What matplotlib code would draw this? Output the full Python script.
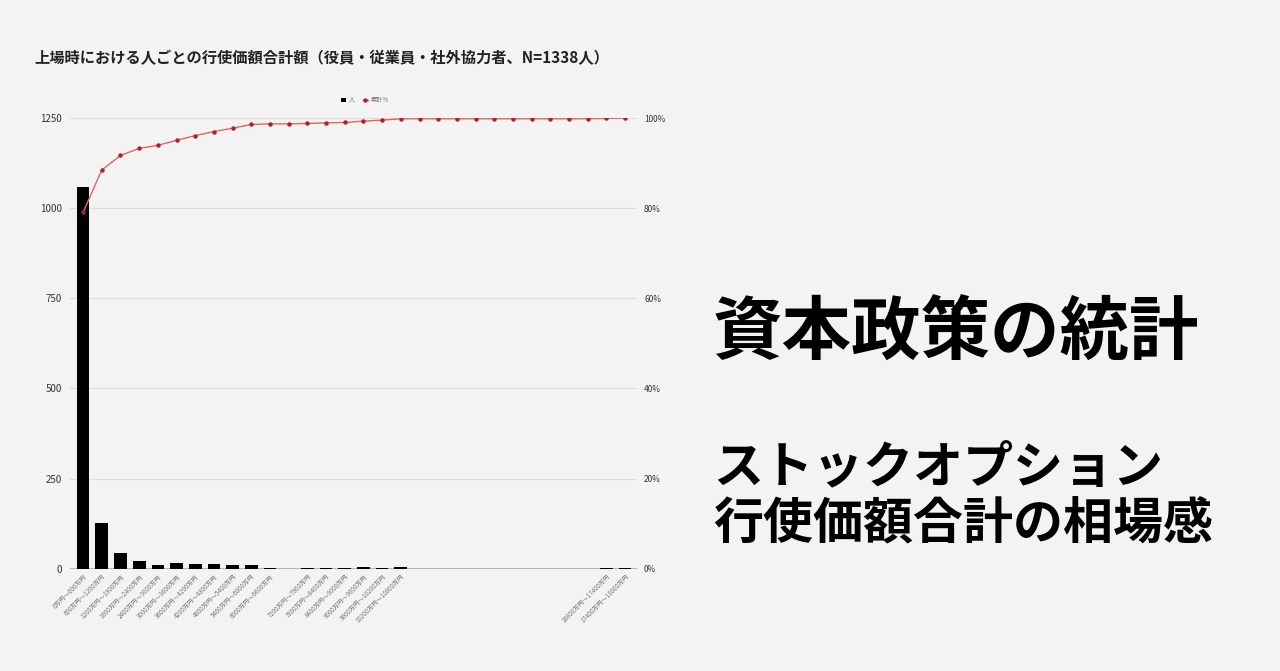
import matplotlib
matplotlib.use("Agg")
import matplotlib.pyplot as plt
import numpy as np

plt.rcParams['font.family'] = ['Noto Sans CJK JP', 'DejaVu Sans']

# bins of 600万円, 0 ~ 18000万円
bin_starts = list(range(0, 18000, 600))
people = [1058, 126, 43, 21, 9, 15, 14, 12, 10, 11,
          2, 0, 1, 2, 1, 4, 3, 4, 0, 0,
          0, 0, 0, 0, 0, 0, 0, 0, 1, 1]
# labels only shown for bins that have people
labels = [f"{s}万円〜{s + 600}万円" if n > 0 else "" for s, n in zip(bin_starts, people)]

total = sum(people)
cum_pct = np.cumsum(people) / total * 100

bg = '#f3f3f3'
fig = plt.figure(figsize=(12.8, 6.71), dpi=100, facecolor=bg)
ax = fig.add_axes([0.0547, 0.1525, 0.443, 0.6715], facecolor=bg)
ax2 = ax.twinx()

x = np.arange(len(people))
ax.bar(x, people, width=0.68, color='black', label='人', zorder=3)
ax2.plot(x, cum_pct, color='#e06666', lw=1.0, marker='o', ms=2.2,
         mfc='#b22222', mec='#b22222', label='累計%', zorder=4)

ax.set_xlim(-0.7, 29.64)
ax.set_ylim(0, 1250)
ax2.set_ylim(0, 100)
ax.set_yticks([0, 250, 500, 750, 1000, 1250])
ax2.set_yticks([0, 20, 40, 60, 80, 100])
ax2.set_yticklabels([f"{v}%" for v in [0, 20, 40, 60, 80, 100]])

ax.set_xticks(x)
ax.set_xticklabels(labels, rotation=45, ha='right', rotation_mode='anchor',
                   fontsize=4.5, color='#777777')
ax.tick_params(axis='x', length=0, pad=3)
ax.tick_params(axis='y', length=0, labelsize=7, labelcolor='#333333', pad=6)
ax2.tick_params(axis='y', length=0, labelsize=6, labelcolor='#333333', pad=5)

ax.grid(axis='y', color='#dddddd', lw=0.8, zorder=0)
for a in (ax, ax2):
    for side in ('top', 'right', 'left', 'bottom'):
        a.spines[side].set_visible(False)
ax.axhline(0, color='#aaaaaa', lw=1.2, zorder=2)
ax2.set_zorder(ax.get_zorder() + 1)
ax2.patch.set_visible(False)

h1, l1 = ax.get_legend_handles_labels()
h2, l2 = ax2.get_legend_handles_labels()
leg = fig.legend(h1 + h2, l1 + l2, loc='center', bbox_to_anchor=(0.285, 0.851),
                 ncol=2, frameon=False, fontsize=4.5, handlelength=0.8,
                 handletextpad=0.5, columnspacing=1.2)
for t in leg.get_texts():
    t.set_color('#777777')

fig.text(0.027, 0.913, '上場時における人ごとの行使価額合計額（役員・従業員・社外協力者、N=1338人）',
         fontsize=11, fontweight='bold', color='#222222', va='center')

fig.text(0.557, 0.502, '資本政策の統計', fontsize=50, fontweight='bold',
         color='black', va='center')
fig.text(0.557, 0.303, 'ストックオプション', fontsize=36, fontweight='bold',
         color='black', va='center')
fig.text(0.557, 0.217, '行使価額合計の相場感', fontsize=36, fontweight='bold',
         color='black', va='center')

fig.savefig('out.png', dpi=100, facecolor=bg)
